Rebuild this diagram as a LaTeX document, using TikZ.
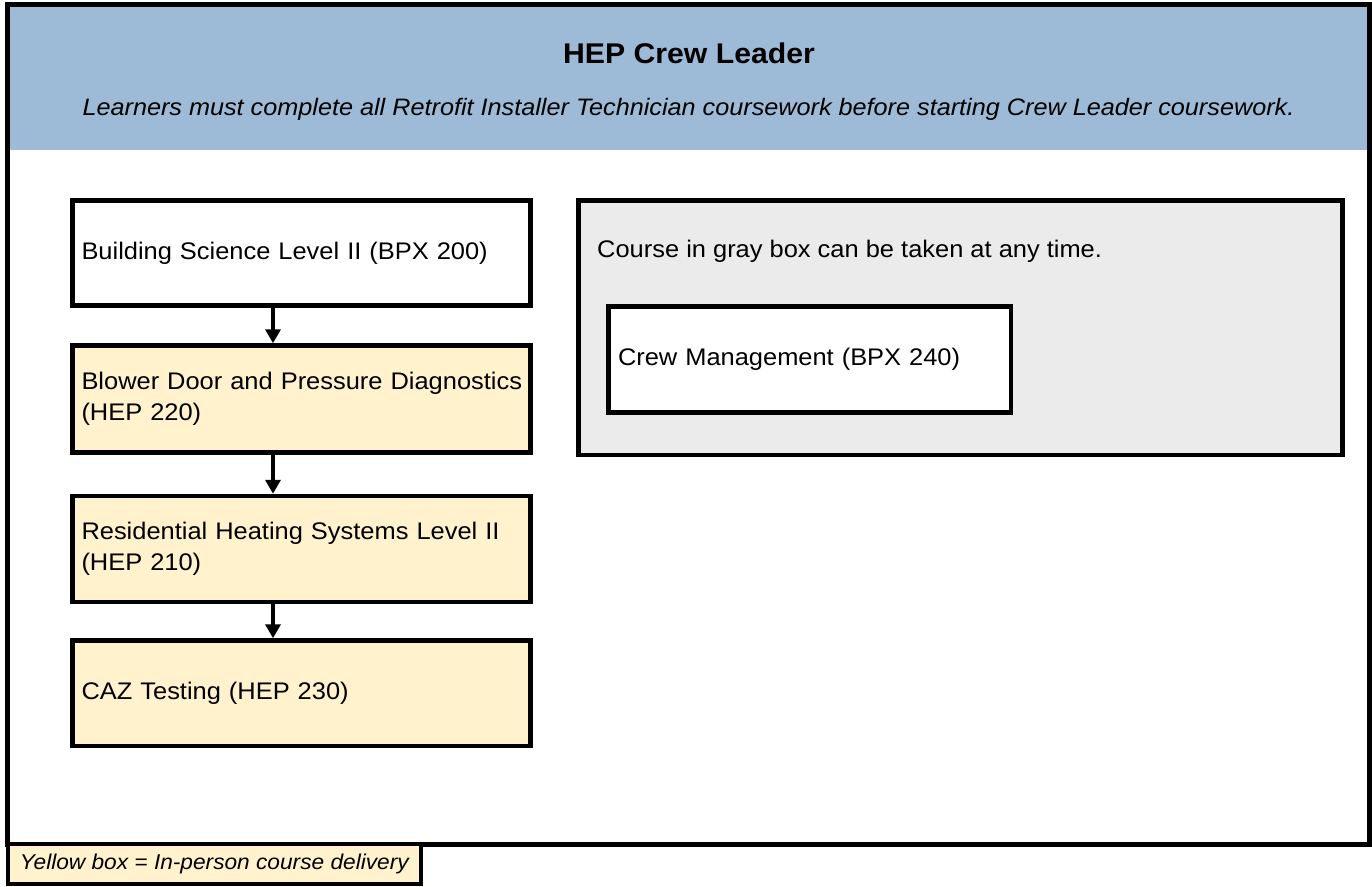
\documentclass[tikz,border=0pt]{standalone}
\usepackage{fontspec}
\setmainfont[FakeStretch=1.06]{Liberation Sans}
\usetikzlibrary{arrows.meta}
\definecolor{hdrblue}{HTML}{9DBAD7}
\definecolor{crsyellow}{HTML}{FFF2CC}
\definecolor{grpgray}{HTML}{EBEBEB}
\newcommand\crsfont{\fontsize{24}{31}\selectfont}
\begin{document}
\begin{tikzpicture}[x=1pt,y=-1pt,
  course/.style={draw=black, line width=4.5pt, rectangle, text width=440pt,
    inner xsep=9pt, inner ysep=0pt, align=left, font=\crsfont, minimum width=458pt},
  inperson/.style={course, fill=crsyellow},
  online/.style={course, fill=white},
  grpbox/.style={draw=black, line width=4.5pt, rectangle, fill=grpgray, inner sep=0pt},
  flow/.style={line width=4pt, -{Triangle[width=15pt,length=14pt]}}]
\useasboundingbox (0,0) rectangle (1372,886);
\fill[white] (0,0) rectangle (1372,886);
% header band
\fill[hdrblue] (10,6.5) rectangle (1366.5,150);
\node[font=\fontsize{28.5}{34}\selectfont\bfseries, anchor=base] (title) at (689,63) {HEP Crew Leader};
\node[font=\fontsize{23.8}{30}\selectfont\itshape, anchor=base] (subtitle) at (688.5,115)
  {Learners must complete all Retrofit Installer Technician coursework before starting Crew Leader coursework.};
% outer frame
\draw[line width=5pt] (7.5,4) rectangle (1369,844);
% left column
\node[online, minimum height=105pt] (bpx200) at (301.5,253) {\mbox{Building Science Level II (BPX 200)}};
\node[inperson, minimum height=107pt] (hep220) at (301.5,399) {\mbox{Blower Door and Pressure Diagnostics}\\(HEP 220)};
\node[inperson, minimum height=106pt] (hep210) at (301.5,549) {\mbox{Residential Heating Systems Level II}\\(HEP 210)};
\node[inperson, minimum height=105.5pt] (hep230) at (301.5,693.25) {\mbox{CAZ Testing (HEP 230)}};
\coordinate (ax) at (273,0);
\draw[flow] (bpx200.south -| ax) -- (hep220.north -| ax);
\draw[flow] (hep220.south -| ax) -- (hep210.north -| ax);
\draw[flow] (hep210.south -| ax) -- (hep230.north -| ax);
% gray group
\node[grpbox, minimum width=764pt, minimum height=254.5pt] (group) at (960.5,327.75) {};
\node[font=\crsfont, anchor=base west, inner sep=0pt] (gnote) at (597,257) {Course in gray box can be taken at any time.};
\node[online, text width=383.5pt, inner xsep=9.5pt, minimum width=402.5pt, minimum height=106pt] (bpx240) at (809.75,359.5) {\mbox{Crew Management (BPX 240)}};
% legend
\node[draw=black, line width=4pt, fill=crsyellow, minimum width=412.5pt, minimum height=39.5pt,
  inner sep=0pt, font=\fontsize{21.4}{25}\selectfont\itshape] (legend) at (214.25,863.75) {Yellow box = In-person course delivery};
\end{tikzpicture}
\end{document}
